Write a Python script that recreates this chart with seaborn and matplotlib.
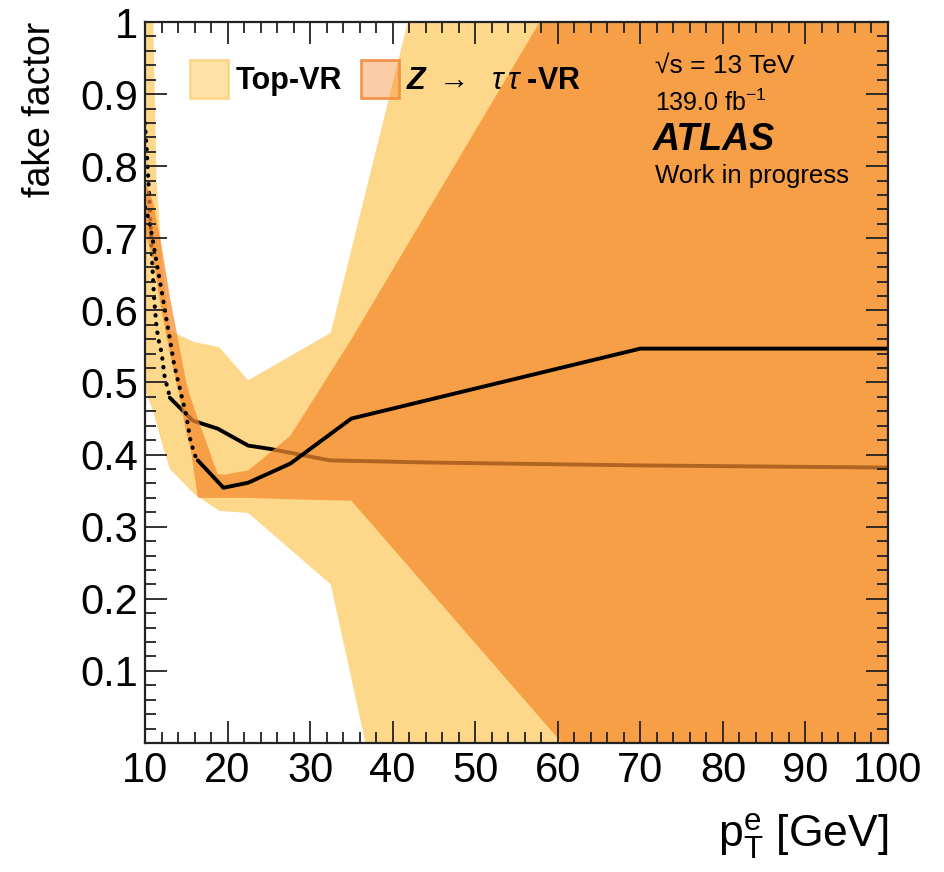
import numpy as np
import pandas as pd
import matplotlib
matplotlib.use("Agg")
import matplotlib.pyplot as plt
import seaborn as sns
from matplotlib.patches import Patch
from matplotlib.ticker import MultipleLocator, FixedLocator, FixedFormatter

# ---------------- data ----------------
# Top-VR fake factor (central value)
top_dot_x = [10.0, 10.2, 10.6, 10.9, 11.1, 11.4, 11.7, 12.0, 12.4, 12.8, 13.0]
top_dot_y = [0.86, 0.824, 0.74, 0.66, 0.617, 0.576, 0.556, 0.542, 0.506, 0.49, 0.479]
top_x = [13.0, 15.8, 18.8, 22.5, 25.1, 32.4, 44.5, 70.0, 100.0]
top_y = [0.479, 0.447, 0.436, 0.4125, 0.408, 0.392, 0.389, 0.385, 0.382]
# Top-VR uncertainty band
top_band_x = [10.0, 11.0, 11.4, 12.2, 13.0, 16.0, 19.0, 22.5, 32.5, 70.0, 100.0]
top_band_hi = [1.3, 1.0, 0.78, 0.65, 0.572, 0.556, 0.549, 0.503, 0.569, 2.3, 2.3]
top_band_lo = [0.49, 0.46, 0.443, 0.41, 0.38, 0.345, 0.322, 0.319, 0.22, -1.74, -1.74]

# Z->tautau-VR fake factor (central value)
z_dot_x = [10.0, 10.5, 11.0, 11.5, 12.0, 12.5, 13.0, 13.5, 14.0, 14.5, 15.0, 15.5, 16.0, 16.4]
z_dot_y = [0.743, 0.725, 0.694, 0.66, 0.628, 0.594, 0.561, 0.527, 0.502, 0.478, 0.455, 0.42, 0.40, 0.392]
z_x = [16.4, 19.5, 22.5, 27.6, 35.0, 70.0, 100.0]
z_y = [0.392, 0.354, 0.361, 0.3875, 0.45, 0.547, 0.547]
# Z->tautau-VR uncertainty band
z_band_x = [10.0, 11.0, 12.0, 13.0, 14.0, 15.0, 15.5, 16.4, 17.5, 18.8, 19.5, 22.5, 27.6, 35.0, 70.0, 100.0]
z_band_hi = [0.78, 0.75, 0.69, 0.62, 0.56, 0.50, 0.48, 0.45, 0.415, 0.373, 0.372, 0.378, 0.426, 0.56, 1.235, 1.235]
z_band_lo = [0.71, 0.67, 0.60, 0.54, 0.49, 0.43, 0.41, 0.34, 0.34, 0.34, 0.34, 0.34, 0.338, 0.336, -0.125, -0.125]

legend_labels = ["Top-VR", r"$\mathbfit{Z}\ \rightarrow\ \ \mathit{\tau}\,\mathit{\tau}$ -VR"]
y_ticks = [0.1, 0.2, 0.3, 0.4, 0.5, 0.6, 0.7, 0.8, 0.9, 1.0]
y_tick_labels = ["0.1", "0.2", "0.3", "0.4", "0.5", "0.6", "0.7", "0.8", "0.9", "1"]
x_ticks = [10, 20, 30, 40, 50, 60, 70, 80, 90, 100]

# ---------------- style ----------------
sns.set_theme(style="ticks")
plt.rcParams["font.family"] = ["Liberation Sans", "DejaVu Sans"]
plt.rcParams["mathtext.fontset"] = "custom"
plt.rcParams["mathtext.rm"] = "Liberation Sans"
plt.rcParams["mathtext.it"] = "Liberation Sans:italic"
plt.rcParams["mathtext.bf"] = "Liberation Sans:bold"
plt.rcParams["mathtext.bfit"] = "Liberation Sans:italic:bold"
for key in ["text.color", "axes.labelcolor", "xtick.color", "ytick.color", "axes.edgecolor"]:
    plt.rcParams[key] = "black"

YELLOW = "#FDD88A"
ORANGE = "#F68A2E"
ORANGE_ALPHA = 0.72

fig = plt.figure(figsize=(9.45, 8.72), dpi=100)
ax = fig.add_axes([145 / 945, 1 - 743 / 872, 743 / 945, 721 / 872])
ax.set_facecolor("white")

# Top-VR band and line
ax.fill_between(top_band_x, top_band_lo, top_band_hi, color=YELLOW, linewidth=0, zorder=0.6)
sns.lineplot(x=top_dot_x, y=top_dot_y, ax=ax, color="black", linewidth=3.0,
             linestyle=(0, (0.1, 2.0)), dash_capstyle="round", sort=False,
             estimator=None, zorder=0.7)
sns.lineplot(x=top_x, y=top_y, ax=ax, color="black", linewidth=2.8, sort=False,
             estimator=None, zorder=0.7)

# Z->tautau band and line
ax.fill_between(z_band_x, z_band_lo, z_band_hi, color=ORANGE, alpha=ORANGE_ALPHA,
                linewidth=0, zorder=0.8)
sns.lineplot(x=z_dot_x, y=z_dot_y, ax=ax, color="black", linewidth=3.0,
             linestyle=(0, (0.1, 2.0)), dash_capstyle="round", sort=False,
             estimator=None, zorder=0.9)
sns.lineplot(x=z_x, y=z_y, ax=ax, color="black", linewidth=2.8, sort=False,
             estimator=None, zorder=0.9)

ax.set_xlim(10, 100)
ax.set_ylim(0.0, 1.0)

ax.xaxis.set_major_locator(FixedLocator(x_ticks))
ax.xaxis.set_minor_locator(MultipleLocator(2))
ax.yaxis.set_major_locator(FixedLocator(y_ticks))
ax.yaxis.set_major_formatter(FixedFormatter(y_tick_labels))
ax.yaxis.set_minor_locator(MultipleLocator(0.02))
ax.xaxis.set_zorder(5)
ax.yaxis.set_zorder(5)

ax.tick_params(which="both", direction="in", top=True, right=True, width=1.3, color="#222222")
ax.tick_params(which="major", length=16)
ax.tick_params(which="minor", length=8)
ax.tick_params(axis="both", which="major", labelsize=30, pad=6, labelcolor="black")
ax.tick_params(axis="y", which="major", pad=5)

for s in ax.spines.values():
    s.set_linewidth(1.6)
    s.set_color("#222222")
    s.set_zorder(10)

ax.set_ylabel("fake factor", loc="top", fontsize=27, labelpad=16, color="black")
ax.set_xlabel(r"$\mathrm{p}_{\mathrm{T}}^{\mathrm{e}}$ [GeV]", loc="right", fontsize=32,
              labelpad=14, color="black")
ax.grid(False)

# legend
handles = [
    Patch(facecolor=(0.992, 0.847, 0.541, 0.75), edgecolor=(0.992, 0.84, 0.53, 1.0), linewidth=2),
    Patch(facecolor=(0.965, 0.541, 0.18, 0.42), edgecolor=(0.965, 0.55, 0.25, 0.9), linewidth=2),
]
leg = ax.legend(handles, legend_labels, ncol=2, loc="upper left",
                bbox_to_anchor=((190 - 145) / 743, (743 - 60) / 721),
                frameon=False, borderpad=0, borderaxespad=0,
                handlelength=1.25, handleheight=1.55, handletextpad=0.25,
                columnspacing=0.6, prop={"size": 22, "weight": "bold"})
for t in leg.get_texts():
    t.set_color("black")
leg.set_zorder(20)

# ATLAS labels
fig.text(655 / 945, 1 - 66 / 872, "\u221As = 13 TeV", fontsize=19, va="center", ha="left",
         color="black")
fig.text(655 / 945, 1 - 103 / 872, r"139.0 fb$^{\mathregular{-1}}$", fontsize=18, va="center",
         ha="left", color="black")
fig.text(653 / 945, 1 - 140 / 872, "ATLAS", fontsize=27, fontweight="bold", fontstyle="italic",
         va="center", ha="left", color="black")
fig.text(655 / 945, 1 - 176 / 872, "Work in progress", fontsize=18.5, va="center", ha="left",
         color="black")

fig.savefig("out.png", dpi=100)
